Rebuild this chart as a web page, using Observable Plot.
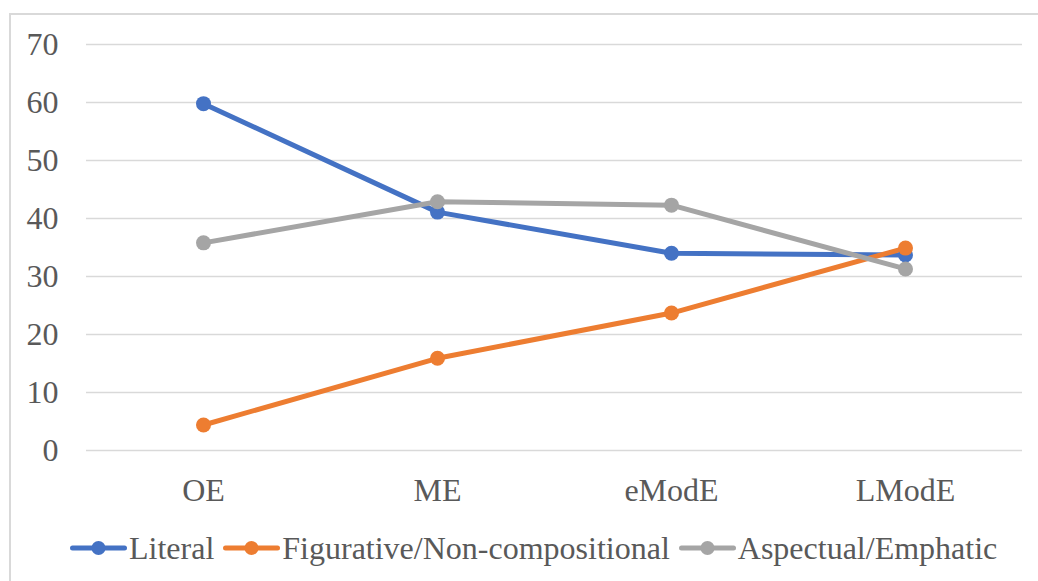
<!DOCTYPE html>
<html>
<head>
<meta charset="utf-8">
<script src="https://cdn.jsdelivr.net/npm/d3@7"></script>
<script src="https://cdn.jsdelivr.net/npm/@observablehq/plot@0.6"></script>
<style>
  html, body { margin: 0; padding: 0; background: #fff; }
  body { width: 1038px; height: 581px; overflow: hidden; position: relative; font-family: "Liberation Serif", "Times New Roman", serif; }
  #frame { position: absolute; left: 9px; top: 13px; width: 1040px; height: 580px; border-left: 2px solid #d9d9d9; border-top: 2px solid #d9d9d9; box-sizing: border-box; }
  #chart { position: absolute; left: 0; top: 0; }
  #legend { position: absolute; left: 70px; top: 530px; height: 36px; display: flex; align-items: center; font-size: 32px; color: #595959; white-space: nowrap; }
  .item { display: flex; align-items: center; margin-right: 9px; }
  .item svg { margin-right: 2px; }
</style>
</head>
<body>
<div id="frame"></div>
<div id="chart"></div>
<div id="legend"></div>
<script>
// Periods of English and the share of each sense category (%)
const periods = ["OE", "ME", "eModE", "LModE"];
const literal = [59.8, 41.1, 34.0, 33.7];
const figurative = [4.4, 15.9, 23.7, 34.9];
const aspectual = [35.8, 42.9, 42.3, 31.3];
const seriesNames = ["Literal", "Figurative/Non-compositional", "Aspectual/Emphatic"];
const seriesColors = ["#4472C4", "#ED7D31", "#A5A5A5"];
const yTicks = [0, 10, 20, 30, 40, 50, 60, 70];

const seriesValues = [literal, figurative, aspectual];
const rows = seriesNames.flatMap((name, s) =>
  periods.map((p, i) => ({ series: name, period: p, value: seriesValues[s][i] }))
);

const chart = Plot.plot({
  width: 1038,
  height: 510,
  marginLeft: 86,
  marginRight: 16,
  marginTop: 44,
  marginBottom: 60,
  style: { fontFamily: "'Liberation Serif', 'Times New Roman', serif", fontSize: "32px", color: "#595959", background: "transparent" },
  x: { type: "point", domain: periods, padding: 0.5, label: null },
  y: { domain: [0, 70], ticks: yTicks, label: null },
  color: { domain: seriesNames, range: seriesColors },
  marks: [
    Plot.gridY(yTicks, { stroke: "#d9d9d9", strokeOpacity: 1, strokeWidth: 1.5 }),
    Plot.axisY({ ticks: yTicks, tickSize: 0, tickPadding: 28, label: null, fill: "#595959" }),
    Plot.axisX({ tickSize: 0, tickPadding: 28, label: null, fill: "#595959" }),
    Plot.line(rows, { x: "period", y: "value", z: "series", stroke: "series", strokeWidth: 5, strokeLinecap: "round", strokeLinejoin: "round" }),
    Plot.dot(rows, { x: "period", y: "value", fill: "series", r: 7.5 })
  ]
});
document.getElementById("chart").appendChild(chart);

// Legend: line-with-marker swatch followed by the series name
const legend = document.getElementById("legend");
seriesNames.forEach((name, i) => {
  const item = document.createElement("div");
  item.className = "item";
  item.innerHTML =
    `<svg width="57" height="16"><line x1="2.5" y1="8" x2="54.5" y2="8" stroke="${seriesColors[i]}" stroke-width="5" stroke-linecap="round"/><circle cx="28.5" cy="8" r="7" fill="${seriesColors[i]}"/></svg><span>${name}</span>`;
  legend.appendChild(item);
});
</script>
</body>
</html>
